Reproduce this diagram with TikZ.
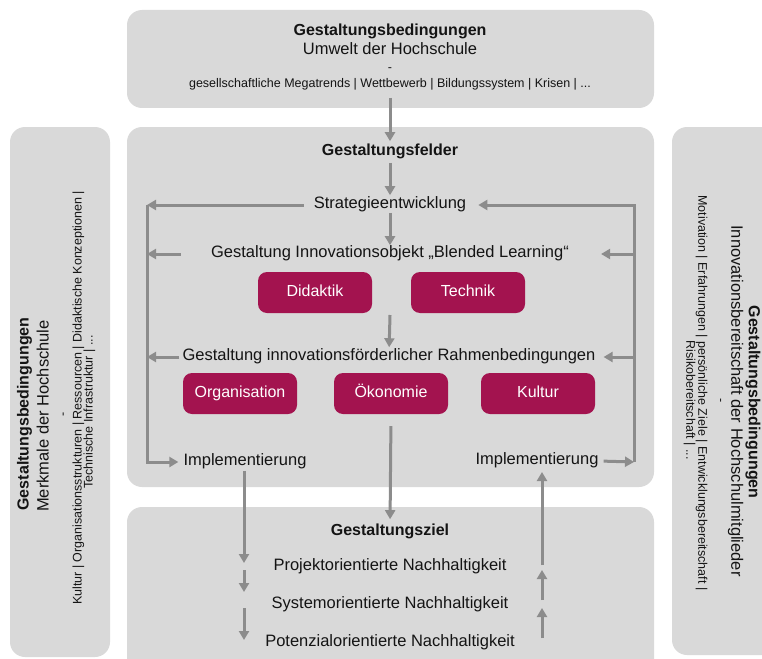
\documentclass[tikz,border=0pt]{standalone}
\usepackage{fontspec}
\setmainfont{Liberation Sans}
\usetikzlibrary{arrows.meta}
\definecolor{boxgray}{HTML}{D9D9D9}
\definecolor{arrgray}{HTML}{8C8C8C}
\definecolor{tumag}{HTML}{A3134F}
\definecolor{txt}{HTML}{141414}
\begin{document}
\begin{tikzpicture}[x=1pt,y=-1pt,
  area/.style={fill=boxgray, rounded corners=15pt},
  tx/.style={inner sep=0pt, text height=0.72em, text depth=0pt, text=txt, font=\fontsize{16.5}{19}\selectfont},
  ttl/.style={tx, font=\fontsize{16}{19}\selectfont\bfseries},
  sm/.style={tx, font=\fontsize{12.5}{15}\selectfont},
  mbox/.style={fill=tumag, rounded corners=9pt, minimum width=114pt, minimum height=41pt, inner sep=0pt, text height=0.72em, text depth=0pt, text=white, font=\fontsize{16}{19}\selectfont},
  arr/.style={draw=arrgray, line width=3pt, -{Triangle[length=9pt,width=10pt]}},
  ln/.style={draw=arrgray, line width=3pt}]
\useasboundingbox (0,0) rectangle (762,658);
\clip (0,0) rectangle (762,658);
% areas
\fill[area] (127,10) rectangle (654,108);
\fill[area] (127,127) rectangle (654,487);
\fill[area] (127,507) rectangle (654,680);
\fill[area] (10,127) rectangle (110,657);
\fill[area] (672,127) rectangle (790,655);
% top box
\node[ttl] (t1) at (390,32) {Gestaltungsbedingungen};
\node[tx] (t2) at (390,51) {Umwelt der Hochschule};
\node[sm] (t3) at (390,68) {-};
\node[sm] (t4) at (390,84) {gesellschaftliche Megatrends | Wettbewerb | Bildungssystem | Krisen | ...};
% left box
\node[ttl, rotate=90] (l1) at (25,414) {Gestaltungsbedingungen};
\node[tx, rotate=90] (l2) at (45,416) {Merkmale der Hochschule};
\node[sm, rotate=90] (l3) at (63,414) {-};
\node[sm, rotate=90] (l4) at (78,398) {Kultur | Organisationsstrukturen | Ressourcen | Didaktische Konzeptionen |};
\node[sm, rotate=90] (l5) at (89,412) {Technische Infrastruktur | ...};
% right box
\node[ttl, rotate=-90] (r1) at (752.5,402) {Gestaltungsbedingungen};
\node[tx, rotate=-90] (r2) at (735,401) {Innovationsbereitschaft der Hochschulmitglieder};
\node[sm, rotate=-90] (r3) at (721,401) {-};
\node[sm, rotate=-90] (r4) at (702,393) {Motivation | Erfahrungen | persönliche Ziele | Entwicklungsbereitschaft |};
\node[sm, rotate=-90] (r5) at (690,400) {Risikobereitschaft | ...};
% middle box
\node[ttl] (felder) at (390,152) {Gestaltungsfelder};
\node[tx] (strat) at (390,205) {Strategieentwicklung};
\node[tx] (blend) at (390,254) {Gestaltung Innovationsobjekt „Blended Learning“};
\node[mbox] (didaktik) at (315,292.5) {Didaktik};
\node[mbox] (technik) at (468,292.5) {Technik};
\node[tx] (rahmen) at (389,357) {Gestaltung innovationsförderlicher Rahmenbedingungen};
\node[mbox] (org) at (240,393.5) {Organisation};
\node[mbox] (oek) at (391,393.5) {Ökonomie};
\node[mbox] (kultur) at (538,393.5) {Kultur};
\node[tx] (impl1) at (245,462) {Implementierung};
\node[tx] (impl2) at (537,461) {Implementierung};
% bottom box
\node[ttl] (ziel) at (390,532) {Gestaltungsziel};
\node[tx] (proj) at (390,567) {Projektorientierte Nachhaltigkeit};
\node[tx] (sys) at (390,605) {Systemorientierte Nachhaltigkeit};
\node[tx] (pot) at (390,643) {Potenzialorientierte Nachhaltigkeit};
% coordinates
\coordinate (topout) at (390,98);
\coordinate (dt) at (390,315);
\coordinate (lt) at (147,205);
\coordinate (rb) at (634,462);
\coordinate (a1) at (244,563);
\coordinate (a2) at (244,570);
\coordinate (a3) at (244,592);
\coordinate (a4) at (244,608);
\coordinate (a5) at (244,640);
\coordinate (b1) at (542,638);
\coordinate (b2) at (542,608);
\coordinate (b3) at (542,600);
\coordinate (b4) at (542,570);
\coordinate (b5) at (542,565);
\coordinate (b6) at (542,472);
% main vertical flow
\draw[arr, shorten >=7pt] (topout) -- (felder.north);
\draw[arr, shorten <=7pt, shorten >=6pt] (felder.south) -- (strat.north);
\draw[arr, shorten <=4pt, shorten >=5pt] (strat.south) -- (blend.north);
\draw[arr, shorten >=6pt] (dt) -- (rahmen.north);
\draw[arr, shorten <=12pt, shorten >=9pt] (oek.south) -- (ziel.north);
% left loop
\draw[arr, shorten <=10pt] (strat.west) -- (lt);
\draw[arr, shorten >=5pt] (lt) |- (impl1.west);
\draw[arr, shorten <=30pt] (blend.west) -- (blend.west -| lt);
\draw[arr, shorten <=3pt] (rahmen.west) -- (rahmen.west -| lt);
% right loop
\draw[arr, shorten <=5pt] (impl2.east) -- (rb);
\draw[arr, shorten >=12pt] (rb) |- (strat.east);
\draw[arr, shorten >=32pt] (blend.east -| rb) -- (blend.east);
\draw[arr, shorten >=8pt] (rahmen.east -| rb) -- (rahmen.east);
% bottom chains
\draw[arr, shorten <=5pt] (impl1.south -| a1) -- (a1);
\draw[arr] (a2) -- (a3);
\draw[arr] (a4) -- (a5);
\draw[arr] (b1) -- (b2);
\draw[arr] (b3) -- (b4);
\draw[arr] (b5) -- (b6);
\end{tikzpicture}
\end{document}
